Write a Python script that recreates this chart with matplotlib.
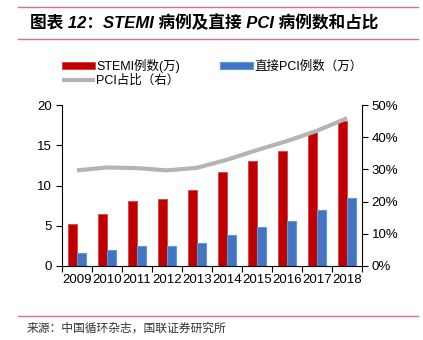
import matplotlib
matplotlib.use('Agg')
from matplotlib import pyplot as plt
from matplotlib.lines import Line2D
import numpy as np

plt.rcParams['font.family'] = ['Liberation Sans', 'Noto Sans CJK SC', 'DejaVu Sans']

years = ['2009', '2010', '2011', '2012', '2013', '2014', '2015', '2016', '2017', '2018']
stemi = [5.2, 6.4, 8.1, 8.3, 9.5, 11.7, 13.0, 14.3, 16.6, 18.0]
pci = [1.6, 2.0, 2.5, 2.5, 2.9, 3.9, 4.8, 5.6, 7.0, 8.4]
pci_ratio = [29.7, 30.6, 30.4, 29.7, 30.5, 33.0, 36.0, 38.8, 42.0, 45.9]

W, H = 423, 340
fig = plt.figure(figsize=(W / 100, H / 100), dpi=100)

# axes box in pixels: left 62, right 362, top 105, bottom 266
ax = fig.add_axes([62 / W, (H - 266) / H, 300 / W, 161 / H])
ax2 = ax.twinx()

x = np.arange(len(years))
bw = 0.3
b1 = ax.bar(x - bw / 2, stemi, bw, color='#c00000', edgecolor='#d94040', linewidth=0.6, zorder=2)
b2 = ax.bar(x + bw / 2, pci, bw, color='#4472c4', edgecolor='#5b9bd5', linewidth=0.8, zorder=2)
ln, = ax2.plot(x, pci_ratio, color='#b4b4b4', linewidth=3, solid_capstyle='butt')

ax.set_xlim(-0.5, len(years) - 0.5)
ax.set_ylim(0, 20)
ax.set_yticks([0, 5, 10, 15, 20])
ax2.set_ylim(0, 50)
ax2.set_yticks([0, 10, 20, 30, 40, 50])
ax2.set_yticklabels([f'{v}%' for v in range(0, 60, 10)])

# category boundary ticks, labels centred
ax.set_xticks(np.arange(len(years) + 1) - 0.5)
ax.set_xticklabels([])
ax.set_xticks(x, minor=True)
ax.set_xticklabels(years, minor=True)
ax.tick_params(axis='x', which='major', length=4, width=0.8, direction='out')
ax.tick_params(axis='x', which='minor', length=0, pad=6, labelsize=9.5)
ax.tick_params(axis='y', length=4, width=0.8, labelsize=9.5, pad=3)
ax2.tick_params(axis='y', length=4, width=0.8, labelsize=9.5, pad=3)

for a in (ax, ax2):
    a.spines['top'].set_visible(False)
    for s in a.spines.values():
        s.set_linewidth(0.8)
ax.spines['right'].set_visible(False)
ax2.spines['left'].set_visible(False)
ax2.spines['bottom'].set_visible(False)

leg = fig.legend([b1, ln, b2], ['STEMI例数(万)', 'PCI占比（右）', '直接PCI例数（万）'],
                 ncol=2, loc='upper left', bbox_to_anchor=(62 / W, 1 - 59 / H),
                 frameon=False, fontsize=9, handlelength=2.6, handleheight=0.4,
                 handletextpad=0.15, columnspacing=3.2, labelspacing=0.1, borderpad=0,
                 borderaxespad=0)

# title block
pink = '#d9708a'
fig.add_artist(Line2D([18 / W, 418 / W], [1 - 7 / H, 1 - 7 / H], color=pink, linewidth=1))
fig.add_artist(Line2D([18 / W, 418 / W], [1 - 39 / H, 1 - 39 / H], color=pink, linewidth=1))
fig.text(30 / W, 1 - 23 / H, '图表 12：STEMI 病例及直接 PCI 病例数和占比',
         fontsize=12, fontweight='bold', fontstyle='italic', va='center', ha='left')

fig.add_artist(Line2D([18 / W, 418 / W], [1 - 316 / H, 1 - 316 / H], color=pink, linewidth=1))
fig.text(27 / W, 1 - 329 / H, '来源：中国循环杂志，国联证券研究所',
         fontsize=8.5, va='center', ha='left', color='#333333')

fig.savefig('out.png', dpi=100)
